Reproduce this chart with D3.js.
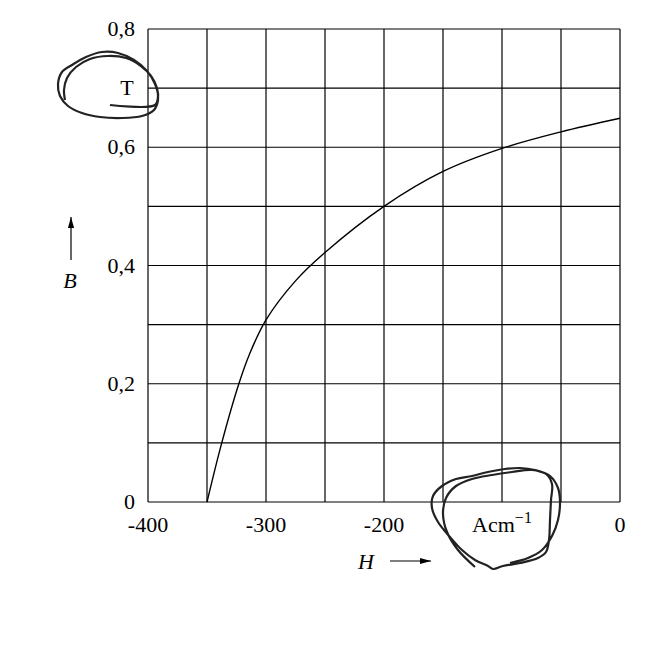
<!DOCTYPE html>
<html>
<head>
<meta charset="utf-8">
<script src="https://cdn.jsdelivr.net/npm/d3@7"></script>
<style>
  body { margin: 0; background: #fff; }
  text { font-family: "Liberation Serif", "DejaVu Serif", serif; fill: #000; }
</style>
</head>
<body>
<div id="chart"></div>
<script>
// curve: H in A/cm, B in T
const hValues = [-350, -337.5, -323, -314, -300, -275, -250, -200, -150, -100, -50, 0];
const bValues = [0, 0.1, 0.2, 0.25, 0.308, 0.374, 0.422, 0.5, 0.559, 0.598, 0.626, 0.649];

const xTicks = [-400, -300, -200, 0];
const xGrid = [-400, -350, -300, -250, -200, -150, -100, -50, 0];
const yTicks = [0, 0.2, 0.4, 0.6, 0.8];
const yGrid = [0, 0.1, 0.2, 0.3, 0.4, 0.5, 0.6, 0.7, 0.8];

const width = 650, height = 650;
const margin = { top: 29, right: 30, bottom: 148, left: 148 };
const fontSize = 22;

const svg = d3.select("#chart").append("svg")
    .attr("width", width)
    .attr("height", height);

const x = d3.scaleLinear()
    .domain([-400, 0])
    .range([margin.left, width - margin.right]);

const y = d3.scaleLinear()
    .domain([0, 0.8])
    .range([height - margin.bottom, margin.top]);

// grid
const grid = svg.append("g").attr("stroke", "#000").attr("stroke-width", 1.2);

grid.selectAll(".vline")
    .data(xGrid)
    .enter().append("line")
    .attr("x1", d => x(d)).attr("x2", d => x(d))
    .attr("y1", y(0)).attr("y2", y(0.8));

grid.selectAll(".hline")
    .data(yGrid)
    .enter().append("line")
    .attr("x1", x(-400)).attr("x2", x(0))
    .attr("y1", d => y(d)).attr("y2", d => y(d));

// tick labels
svg.append("g")
    .selectAll("text")
    .data(xTicks)
    .enter().append("text")
    .attr("x", d => x(d))
    .attr("y", y(0) + 30)
    .attr("text-anchor", "middle")
    .style("font-size", fontSize + "px")
    .text(d => d);

svg.append("g")
    .selectAll("text")
    .data(yTicks)
    .enter().append("text")
    .attr("x", x(-400) - 13)
    .attr("y", d => y(d) + 7)
    .attr("text-anchor", "end")
    .style("font-size", fontSize + "px")
    .text(d => d === 0 ? "0" : d3.format(".1f")(d).replace(".", ","));

// the curve
const points = hValues.map((h, i) => [h, bValues[i]]);
svg.append("path")
    .datum(points)
    .attr("fill", "none")
    .attr("stroke", "#000")
    .attr("stroke-width", 1.4)
    .attr("d", d3.line()
        .x(d => x(d[0]))
        .y(d => y(d[1]))
        .curve(d3.curveCatmullRom.alpha(0.5)));

// units
svg.append("text")
    .attr("x", x(-400) - 21)
    .attr("y", y(0.7) + 7)
    .attr("text-anchor", "middle")
    .style("font-size", fontSize + "px")
    .text("T");

const unit = svg.append("text")
    .attr("x", x(-100))
    .attr("y", y(0) + 30)
    .attr("text-anchor", "middle")
    .style("font-size", fontSize + "px");
unit.append("tspan").text("Acm");
unit.append("tspan").attr("dy", -9).style("font-size", "16px").text("\u22121");

// axis names with arrows
svg.append("defs").append("marker")
    .attr("id", "arrow")
    .attr("viewBox", "0 0 10 10")
    .attr("refX", 10).attr("refY", 5)
    .attr("markerWidth", 11).attr("markerHeight", 11)
    .attr("markerUnits", "userSpaceOnUse")
    .attr("orient", "auto")
    .append("path")
    .attr("d", "M0,2.2 L10,5 L0,7.8 Z")
    .attr("fill", "#000");

svg.append("text")
    .attr("x", 70)
    .attr("y", 288)
    .attr("text-anchor", "middle")
    .style("font-size", fontSize + "px")
    .style("font-style", "italic")
    .text("B");

svg.append("line")
    .attr("x1", 71).attr("x2", 71)
    .attr("y1", 260).attr("y2", 217)
    .attr("stroke", "#000").attr("stroke-width", 1.2)
    .attr("marker-end", "url(#arrow)");

svg.append("text")
    .attr("x", 366)
    .attr("y", 569)
    .attr("text-anchor", "middle")
    .style("font-size", fontSize + "px")
    .style("font-style", "italic")
    .text("H");

svg.append("line")
    .attr("x1", 390).attr("x2", 431)
    .attr("y1", 561).attr("y2", 561)
    .attr("stroke", "#000").attr("stroke-width", 1.2)
    .attr("marker-end", "url(#arrow)");

// hand-drawn circles around the units (pixel sketch overlay)
const scribbleT = [[110,105],[155,105],[158,96],[155,84],[147,71],[134,60],[118,53],[102,52],[86,57],[72,65],[62,72],[58,84],[60,96],[68,106],[82,113],[100,117],[122,118],[142,116],[154,110],[158,100],[157,88],[151,76],[141,66],[126,58],[108,56],[90,59],[76,67],[67,78],[64,90],[65,100]];
const scribbleA = [[475,567],[458,550],[447,532],[443,514],[446,498],[456,486],[472,479],[492,475],[512,472],[532,470],[546,474],[552,484],[551,500],[550,520],[549,540],[546,552],[538,558],[520,563],[503,566],[493,569],[488,566],[475,560],[462,550],[450,537],[438,522],[432,508],[433,496],[442,486],[456,479],[472,476],[488,472],[505,469],[520,468],[535,470],[550,476],[558,488],[560,502],[558,520],[552,536],[542,550],[528,558],[510,563]];

svg.selectAll(".scribble")
    .data([scribbleT, scribbleA])
    .enter().append("path")
    .attr("class", "scribble")
    .attr("fill", "none")
    .attr("stroke", "#222")
    .attr("stroke-width", 2.2)
    .attr("stroke-linejoin", "round")
    .attr("d", d3.line().curve(d3.curveCatmullRom));
</script>
</body>
</html>
